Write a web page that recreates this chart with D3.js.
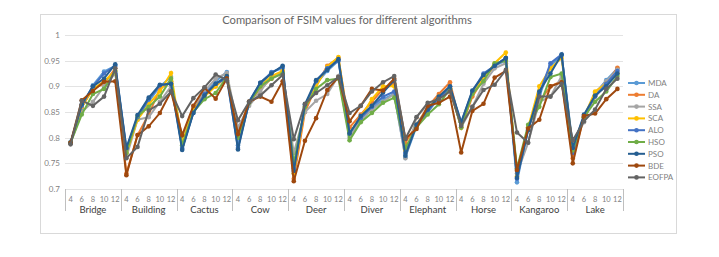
<!DOCTYPE html>
<html>
<head>
<meta charset="utf-8">
<script src="https://cdn.jsdelivr.net/npm/d3@7"></script>
<style>
  html, body { margin: 0; padding: 0; background: #fff; }
  svg { display: block; font-family: Lato, "Liberation Sans", sans-serif; }
</style>
</head>
<body>
<svg id="chart"></svg>
<script>
// FSIM line chart: 10 images x 5 threshold levels, 9 algorithms

const images = ['Bridge', 'Building', 'Cactus', 'Cow', 'Deer', 'Diver', 'Elephant', 'Horse', 'Kangaroo', 'Lake'];
const levels = ['4', '6', '8', '10', '12'];
const yTicks = [0.7, 0.75, 0.8, 0.85, 0.9, 0.95, 1];

const seriesNames = ['MDA', 'DA', 'SSA', 'SCA', 'ALO', 'HSO', 'PSO', 'BDE', 'EOFPA'];
const seriesColors = ['#5b9bd5', '#ed7d31', '#a5a5a5', '#ffc000', '#4472c4', '#70ad47', '#255e91', '#9e480e', '#636363'];

const MDA = [
  0.792, 0.858, 0.902, 0.929, 0.940,  0.775, 0.838, 0.870, 0.900, 0.918,
  0.778, 0.850, 0.885, 0.910, 0.928,  0.785, 0.868, 0.900, 0.928, 0.935,
  0.730, 0.858, 0.905, 0.930, 0.950,  0.805, 0.835, 0.855, 0.875, 0.885,
  0.762, 0.822, 0.858, 0.880, 0.900,  0.825, 0.885, 0.920, 0.940, 0.950,
  0.713, 0.820, 0.880, 0.940, 0.960,  0.785, 0.840, 0.885, 0.912, 0.935
];
const DA = [
  0.790, 0.860, 0.895, 0.905, 0.935,  0.730, 0.805, 0.845, 0.895, 0.910,
  0.800, 0.855, 0.888, 0.900, 0.920,  0.810, 0.870, 0.895, 0.915, 0.930,
  0.720, 0.850, 0.900, 0.940, 0.955,  0.820, 0.845, 0.870, 0.895, 0.905,
  0.790, 0.825, 0.860, 0.885, 0.908,  0.820, 0.880, 0.915, 0.940, 0.955,
  0.735, 0.820, 0.870, 0.900, 0.910,  0.760, 0.840, 0.880, 0.905, 0.936
];
const SSA = [
  0.790, 0.850, 0.870, 0.900, 0.925,  0.762, 0.835, 0.840, 0.870, 0.900,
  0.800, 0.860, 0.890, 0.915, 0.926,  0.820, 0.862, 0.890, 0.920, 0.925,
  0.770, 0.850, 0.872, 0.885, 0.920,  0.800, 0.835, 0.855, 0.870, 0.885,
  0.760, 0.840, 0.865, 0.875, 0.895,  0.820, 0.860, 0.905, 0.935, 0.945,
  0.730, 0.790, 0.870, 0.880, 0.920,  0.790, 0.830, 0.888, 0.910, 0.932
];
const SCA = [
  0.790, 0.860, 0.895, 0.910, 0.930,  0.770, 0.835, 0.865, 0.890, 0.926,
  0.790, 0.855, 0.880, 0.900, 0.920,  0.800, 0.870, 0.900, 0.920, 0.930,
  0.730, 0.860, 0.900, 0.938, 0.957,  0.810, 0.840, 0.875, 0.900, 0.900,
  0.775, 0.825, 0.855, 0.880, 0.895,  0.820, 0.885, 0.915, 0.945, 0.966,
  0.725, 0.820, 0.900, 0.935, 0.955,  0.780, 0.840, 0.890, 0.905, 0.925
];
const ALO = [
  0.790, 0.862, 0.900, 0.925, 0.940,  0.778, 0.840, 0.875, 0.902, 0.905,
  0.780, 0.848, 0.885, 0.905, 0.915,  0.780, 0.870, 0.907, 0.927, 0.938,
  0.740, 0.862, 0.910, 0.935, 0.950,  0.810, 0.838, 0.860, 0.880, 0.890,
  0.770, 0.825, 0.850, 0.878, 0.895,  0.830, 0.890, 0.925, 0.940, 0.955,
  0.720, 0.815, 0.885, 0.945, 0.962,  0.770, 0.842, 0.880, 0.905, 0.930
];
const HSO = [
  0.790, 0.845, 0.885, 0.895, 0.930,  0.770, 0.842, 0.860, 0.880, 0.915,
  0.785, 0.850, 0.875, 0.887, 0.918,  0.800, 0.868, 0.900, 0.915, 0.925,
  0.750, 0.860, 0.895, 0.912, 0.915,  0.795, 0.830, 0.848, 0.868, 0.878,
  0.780, 0.820, 0.845, 0.865, 0.895,  0.820, 0.885, 0.910, 0.945, 0.950,
  0.740, 0.825, 0.860, 0.918, 0.925,  0.775, 0.840, 0.870, 0.890, 0.920
];
const PSO = [
  0.790, 0.865, 0.900, 0.915, 0.943,  0.780, 0.844, 0.878, 0.903, 0.905,
  0.776, 0.848, 0.882, 0.905, 0.920,  0.777, 0.870, 0.907, 0.925, 0.940,
  0.735, 0.865, 0.912, 0.932, 0.953,  0.808, 0.842, 0.862, 0.888, 0.912,
  0.765, 0.825, 0.855, 0.880, 0.900,  0.830, 0.892, 0.922, 0.940, 0.955,
  0.722, 0.815, 0.890, 0.925, 0.962,  0.780, 0.845, 0.882, 0.900, 0.925
];
const BDE = [
  0.790, 0.873, 0.891, 0.909, 0.910,  0.727, 0.805, 0.822, 0.848, 0.890,
  0.805, 0.862, 0.897, 0.876, 0.915,  0.807, 0.870, 0.880, 0.870, 0.910,
  0.715, 0.794, 0.838, 0.893, 0.918,  0.832, 0.862, 0.895, 0.892, 0.915,
  0.798, 0.817, 0.862, 0.868, 0.880,  0.771, 0.852, 0.866, 0.917, 0.930,
  0.737, 0.818, 0.835, 0.900, 0.908,  0.750, 0.842, 0.847, 0.875, 0.895
];
const EOFPA = [
  0.787, 0.872, 0.862, 0.880, 0.935,  0.760, 0.782, 0.853, 0.866, 0.890,
  0.842, 0.877, 0.898, 0.923, 0.912,  0.834, 0.870, 0.882, 0.902, 0.922,
  0.797, 0.866, 0.887, 0.902, 0.918,  0.848, 0.862, 0.890, 0.908, 0.920,
  0.798, 0.840, 0.868, 0.875, 0.890,  0.823, 0.860, 0.893, 0.903, 0.932,
  0.810, 0.790, 0.880, 0.880, 0.905,  0.795, 0.832, 0.855, 0.895, 0.915
];
const seriesValues = [MDA, DA, SSA, SCA, ALO, HSO, PSO, BDE, EOFPA];

const width = 719;
const height = 257;
const plotLeft = 65, plotRight = 623, plotTop = 35, plotBottom = 189;

const svg = d3.select('#chart').attr('width', width).attr('height', height);

// chart frame
svg.append('rect')
  .attr('x', 40.5).attr('y', 14.5)
  .attr('width', 636).attr('height', 219)
  .attr('fill', '#fff')
  .attr('stroke', '#d9d9d9');

svg.append('text')
  .attr('x', 347).attr('y', 24)
  .attr('text-anchor', 'middle')
  .attr('fill', '#666')
  .attr('font-size', 11.2)
  .text('Comparison of FSIM values for different algorithms');

const keys = [];
images.forEach(img => levels.forEach(l => keys.push(img + '|' + l)));

const x = d3.scalePoint().domain(keys).range([plotLeft, plotRight]).padding(0.5);
const y = d3.scaleLinear().domain([0.7, 1]).range([plotBottom, plotTop]);

// gridlines
svg.append('g')
  .selectAll('line')
  .data(yTicks)
  .join('line')
  .attr('x1', plotLeft).attr('x2', plotRight)
  .attr('y1', d => Math.round(y(d)) + 0.5).attr('y2', d => Math.round(y(d)) + 0.5)
  .attr('stroke', '#e3e3e3');

// y axis labels
const yAxis = d3.axisLeft(y).tickValues(yTicks).tickSize(0).tickPadding(5)
  .tickFormat(d => String(+d.toFixed(2)));
svg.append('g')
  .attr('transform', `translate(${plotLeft},0)`)
  .call(yAxis)
  .call(g => g.select('.domain').remove())
  .selectAll('text')
  .attr('fill', '#7f7f7f')
  .attr('font-size', 8)
  .attr('font-family', 'Lato, sans-serif');

// category axis: level ticks and image groups
const groupW = (plotRight - plotLeft) / images.length;
const sepG = svg.append('g');
d3.range(images.length + 1).forEach(i => {
  const sx = Math.round(plotLeft + i * groupW) + 0.5;
  sepG.append('line')
    .attr('x1', sx).attr('x2', sx)
    .attr('y1', plotBottom).attr('y2', 211)
    .attr('stroke', '#bfbfbf');
});

svg.append('g')
  .selectAll('text')
  .data(keys)
  .join('text')
  .attr('x', d => x(d))
  .attr('y', 202)
  .attr('text-anchor', 'middle')
  .attr('fill', '#7f7f7f')
  .attr('font-size', 7.5)
  .text(d => d.split('|')[1]);

svg.append('g')
  .selectAll('text')
  .data(images)
  .join('text')
  .attr('x', (d, i) => plotLeft + (i + 0.5) * groupW)
  .attr('y', 213)
  .attr('text-anchor', 'middle')
  .attr('fill', '#404040')
  .attr('font-size', 9.5)
  .text(d => d);

// series
const line = d3.line().x((d, i) => x(keys[i])).y(d => y(d));
seriesValues.forEach((vals, s) => {
  const g = svg.append('g');
  g.append('path')
    .attr('d', line(vals))
    .attr('fill', 'none')
    .attr('stroke', seriesColors[s])
    .attr('stroke-width', 2);
  g.selectAll('circle')
    .data(vals)
    .join('circle')
    .attr('cx', (d, i) => x(keys[i]))
    .attr('cy', d => y(d))
    .attr('r', 2.3)
    .attr('fill', seriesColors[s]);
});

// legend
const legend = svg.append('g');
seriesNames.forEach((name, i) => {
  const ly = 83 + i * 11.8;
  legend.append('line')
    .attr('x1', 628).attr('x2', 645)
    .attr('y1', ly).attr('y2', ly)
    .attr('stroke', seriesColors[i])
    .attr('stroke-width', 2);
  legend.append('circle')
    .attr('cx', 636.5).attr('cy', ly).attr('r', 2.3)
    .attr('fill', seriesColors[i]);
  legend.append('text')
    .attr('x', 648).attr('y', ly + 3)
    .attr('fill', '#7f7f7f')
    .attr('font-size', 8)
    .text(name);
});
</script>
</body>
</html>
